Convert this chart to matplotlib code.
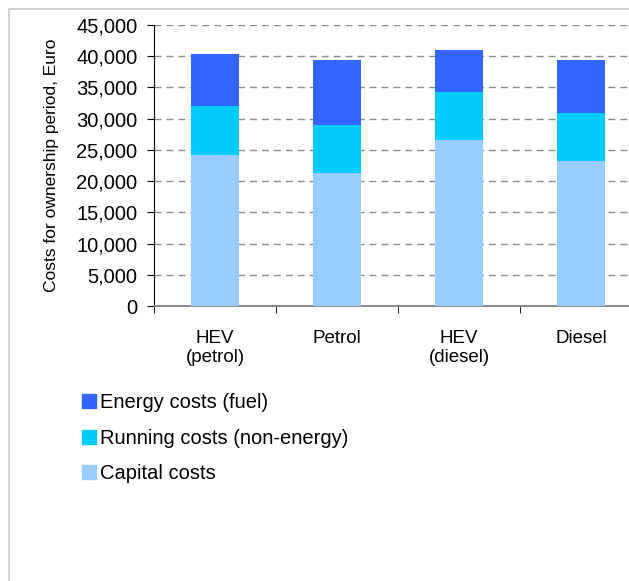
import matplotlib.pyplot as plt
from matplotlib.lines import Line2D
from matplotlib.patches import Patch
import numpy as np

plt.rcParams['font.family'] = ['Liberation Sans', 'DejaVu Sans']

# Data
categories = ['HEV\n(petrol)', 'Petrol', 'HEV\n(diesel)', 'Diesel']
capital = [24200, 21300, 26600, 23250]
running = [7850, 7700, 7650, 7650]
energy = [8300, 10400, 6700, 8500]
series_names = ['Capital costs', 'Running costs (non-energy)', 'Energy costs (fuel)']
colors = ['#99CCFF', '#00CCFF', '#3366FF']

W, H = 629, 581
fig = plt.figure(figsize=(W / 100, H / 100), dpi=100)

# Light grey frame around the chart area (cropped on right/bottom)
fig.add_artist(Line2D([9 / W, 9 / W, 1], [0, 1 - 9 / H, 1 - 9 / H],
                      transform=fig.transFigure, color='#C8C8C8', lw=1.2))

# Axes extends beyond the right edge, like the cropped original
ax = fig.add_axes([154 / W, (H - 306) / H, 488 / W, 281 / H])

x = np.arange(len(categories))
bottom = np.zeros(len(categories))
handles = []
for vals, name, c in zip([capital, running, energy], series_names, colors):
    ax.bar(x, vals, width=0.4, bottom=bottom, color=c, label=name, zorder=3)
    bottom += np.array(vals)
    handles.append(Patch(color=c, label=name))

ax.set_xlim(-0.5, 3.5)
ax.set_ylim(0, 45000)
ax.set_yticks(np.arange(0, 45001, 5000))
ax.set_yticklabels([f'{v:,}' for v in range(0, 45001, 5000)], fontsize=14.5)
ax.yaxis.grid(True, linestyle=(0, (5, 3.6)), color='#8C8C8C', lw=1, zorder=0)

# category labels centred, tick marks on the boundaries
ax.set_xticks(x)
ax.set_xticklabels(categories, fontsize=13.5)
ax.tick_params(axis='x', length=0, pad=17)
ax.set_xticks(np.arange(-0.5, 4, 1), minor=True)
ax.tick_params(axis='x', which='minor', length=5, direction='out', color='black')
ax.tick_params(axis='y', length=5, direction='out', pad=7)

for s in ['top', 'right']:
    ax.spines[s].set_visible(False)
ax.spines['left'].set_color('black')
ax.spines['bottom'].set_color('#808080')
ax.spines['bottom'].set_linewidth(1.3)

ax.set_ylabel('Costs for ownership period, Euro', fontsize=12.5, va='center')
ax.yaxis.set_label_coords(-0.21, 0.5)

# Legend in reverse stacking order
fig.legend(handles=handles[::-1], loc='upper left',
           bbox_to_anchor=(82 / W, 1 - 393 / H), frameon=False,
           fontsize=14.5, handlelength=0.7, handleheight=0.7,
           handletextpad=0.2, labelspacing=0.83, borderaxespad=0, borderpad=0)

fig.savefig('out.png', dpi=100)
